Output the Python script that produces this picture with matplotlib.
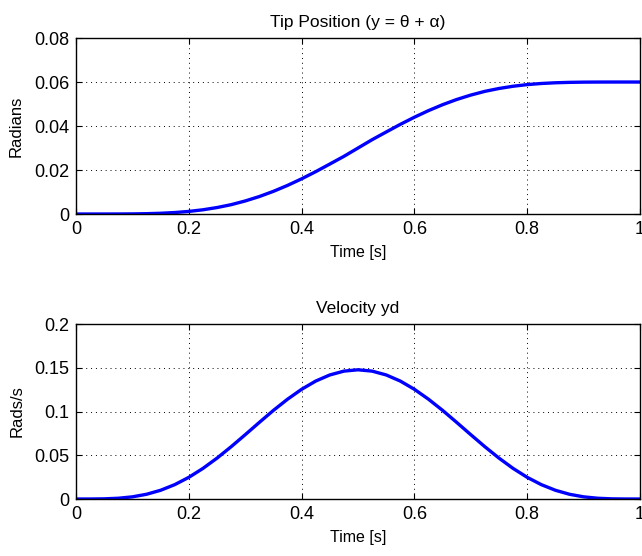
import matplotlib
matplotlib.use("Agg")
import matplotlib.pyplot as plt

plt.rcParams['font.family'] = ['Liberation Sans', 'DejaVu Sans']

# time samples [s]
t = [0.0, 0.025, 0.05, 0.075, 0.1, 0.125, 0.15, 0.175, 0.2, 0.225, 0.25,
     0.275, 0.3, 0.325, 0.35, 0.375, 0.4, 0.425, 0.45, 0.475, 0.5,
     0.525, 0.55, 0.575, 0.6, 0.625, 0.65, 0.675, 0.7, 0.725, 0.75,
     0.775, 0.8, 0.825, 0.85, 0.875, 0.9, 0.925, 0.95, 0.975, 1.0]

# tip position [rad]
pos = [0.0, 0.0, 0.000002, 0.000014, 0.000053, 0.000149, 0.000338, 0.000664,
       0.001175, 0.001918, 0.002936, 0.00424, 0.005929, 0.00794, 0.010303,
       0.012997, 0.015994, 0.01925, 0.022715, 0.026215, 0.03,
       0.033785, 0.037285, 0.04075, 0.044006, 0.047003, 0.049697, 0.05206,
       0.054071, 0.05576, 0.057064, 0.058082, 0.058825, 0.059336, 0.059662,
       0.059851, 0.059947, 0.059986, 0.059998, 0.06, 0.06]

# velocity [rad/s]
vel = [0.0, 0.000013, 0.00019, 0.000876, 0.00248, 0.00541, 0.00999, 0.01642,
       0.02477, 0.03495, 0.04672, 0.05973, 0.07351, 0.08755, 0.1013, 0.11406,
       0.1254, 0.13481, 0.1418, 0.14618, 0.1477,
       0.14618, 0.1418, 0.13481, 0.1254, 0.11406, 0.1013, 0.08755, 0.07351,
       0.05973, 0.04672, 0.03495, 0.02477, 0.01642, 0.00999, 0.00541, 0.00248,
       0.000876, 0.00019, 0.000013, 0.0]

pos_ticks = [0, 0.02, 0.04, 0.06, 0.08]
pos_labels = ['0', '0.02', '0.04', '0.06', '0.08']
vel_ticks = [0, 0.05, 0.1, 0.15, 0.2]
vel_labels = ['0', '0.05', '0.1', '0.15', '0.2']
x_ticks = [0, 0.2, 0.4, 0.6, 0.8, 1]
x_labels = ['0', '0.2', '0.4', '0.6', '0.8', '1']

fig = plt.figure(figsize=(6.42, 5.56), dpi=100)
ax1 = fig.add_axes([0.1184, 0.6151, 0.8785, 0.3165])
ax2 = fig.add_axes([0.1184, 0.1025, 0.8785, 0.3147])

panels = [
    (ax1, pos, pos_ticks, pos_labels, 'Radians', 'Tip Position (y = θ + α)'),
    (ax2, vel, vel_ticks, vel_labels, 'Rads/s', 'Velocity yd'),
]

for ax, y, yt, yl, ylab, title in panels:
    ax.plot(t, y, color='#0000ff', linewidth=2.4)
    ax.set_xlim(0, 1)
    ax.set_ylim(yt[0], yt[-1])
    ax.set_xticks(x_ticks)
    ax.set_xticklabels(x_labels)
    ax.set_yticks(yt)
    ax.set_yticklabels(yl)
    ax.tick_params(direction='in', top=True, right=True, labelsize=13,
                   length=4, width=0.8, pad=5)
    ax.grid(True, linestyle=(0, (1, 4)), color='black', linewidth=0.7)
    for s in ax.spines.values():
        s.set_linewidth(1.0)
    ax.set_xlabel('Time [s]', fontsize=11.5, labelpad=5)
    ax.set_ylabel(ylab, fontsize=12, labelpad=7)
    ax.set_title(title, fontsize=12.5, pad=8)

fig.savefig('out.png', dpi=100)
